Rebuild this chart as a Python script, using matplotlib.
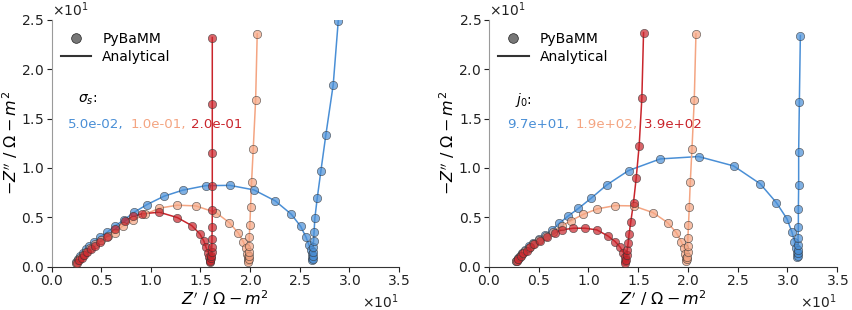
import matplotlib
matplotlib.use("Agg")
import matplotlib.pyplot as plt
from matplotlib.lines import Line2D

# colours for the three curves of each panel
colours = ["#4a8fd6", "#f4a582", "#c9252c"]

# ---- left panel: sigma_s sweep (Z' , -Z'') ----
sig_labels = ["5.0e-02,", "1.0e-01,", "2.0e-01"]

s1_x = [2.50, 2.65, 2.85, 3.12, 3.42, 3.79, 4.26, 4.87, 5.61, 6.38, 7.29, 8.33, 9.60, 11.32,
        13.20, 15.52, 17.97, 20.39, 22.53, 24.15, 25.09, 25.63, 25.93, 26.10, 26.20, 26.25,
        26.28, 26.30, 26.31, 26.33, 26.36, 26.40, 26.45, 26.53, 26.77, 27.14, 27.64, 28.38, 28.89]
s1_y = [0.50, 0.75, 1.08, 1.42, 1.76, 2.10, 2.47, 3.04, 3.49, 4.12, 4.73, 5.51, 6.28, 7.13,
        7.74, 8.20, 8.23, 7.77, 6.66, 5.31, 4.09, 3.01, 2.20, 1.70, 1.25, 0.90,
        0.65, 0.80, 1.10, 1.50, 2.00, 2.60, 3.49, 4.90, 6.93, 9.70, 13.35, 18.41, 24.90]

s2_x = [2.50, 2.70, 2.90, 3.20, 3.50, 3.90, 4.40, 5.00, 5.70, 6.38, 7.16, 8.23, 9.40, 10.85,
        12.66, 14.54, 16.56, 17.90, 18.81, 19.31, 19.58, 19.72, 19.78, 19.81, 19.83,
        19.85, 19.85, 19.85, 19.88, 19.92, 19.98, 20.05, 20.15, 20.32, 20.56, 20.72]
s2_y = [0.40, 0.65, 0.90, 1.20, 1.50, 1.85, 2.25, 2.70, 3.10, 3.45, 4.12, 4.73, 5.28, 5.92,
        6.22, 6.15, 5.47, 4.46, 3.41, 2.53, 1.86, 1.32, 0.95, 0.70, 0.50,
        0.78, 1.11, 1.52, 2.13, 3.01, 4.23, 6.02, 8.55, 11.93, 16.89, 23.58]

s3_x = [2.52, 2.78, 3.02, 3.29, 3.59, 3.93, 4.36, 4.87, 5.54, 6.38, 7.39, 8.20, 9.07, 10.85,
        12.66, 14.11, 14.94, 15.35, 15.55, 15.79, 15.90, 15.95, 15.98,
        16.00, 16.05, 16.10, 16.12, 16.14, 16.16, 16.18, 16.19, 16.19, 16.19, 16.19, 16.19]
s3_y = [0.41, 0.68, 0.91, 1.19, 1.46, 1.76, 2.10, 2.53, 3.04, 3.79, 4.63, 5.10, 5.34, 5.51,
        4.97, 4.16, 3.31, 2.57, 1.97, 1.42, 1.00, 0.70, 0.45,
        0.61, 0.85, 1.11, 1.46, 1.96, 2.77, 3.99, 5.75, 8.18, 11.49, 16.46, 23.21]

# ---- right panel: j0 sweep ----
j0_labels = ["9.7e+01,", "1.9e+02,", "3.9e+02"]

j1_x = [2.70, 2.90, 3.10, 3.35, 3.65, 4.00, 4.45, 5.00, 5.64, 6.31, 7.08, 7.98, 8.99, 10.27,
        11.85, 14.03, 17.22, 21.07, 24.60, 27.28, 28.89, 29.97, 30.47, 30.71, 30.85, 30.95,
        31.00, 31.05, 31.06, 31.07, 31.08, 31.08, 31.11, 31.11, 31.14, 31.14, 31.21, 31.31]
j1_y = [0.60, 0.85, 1.10, 1.40, 1.70, 2.05, 2.40, 2.80, 3.21, 3.72, 4.40, 5.14, 5.89, 6.93,
        8.28, 9.73, 10.91, 11.15, 10.20, 8.38, 6.49, 4.83, 3.48, 2.54, 1.86, 1.35,
        1.00, 1.11, 1.35, 1.69, 2.20, 2.94, 4.05, 5.82, 8.28, 11.65, 16.66, 23.41]

j2_x = [2.70, 2.90, 3.10, 3.35, 3.65, 4.00, 4.45, 5.00, 5.70, 6.48, 7.32, 8.26, 9.44, 10.90,
        12.68, 14.53, 16.49, 17.95, 18.83, 19.33, 19.63, 19.75, 19.82, 19.85,
        19.90, 19.95, 19.97, 19.98, 20.00, 20.06, 20.14, 20.24, 20.41, 20.64, 20.81]
j2_y = [0.55, 0.80, 1.00, 1.30, 1.60, 1.90, 2.25, 2.65, 3.10, 3.55, 4.12, 4.66, 5.28, 5.85,
        6.18, 6.15, 5.47, 4.46, 3.45, 2.54, 1.86, 1.30, 0.90, 0.60,
        0.75, 1.00, 1.52, 2.13, 2.94, 4.23, 6.02, 8.55, 11.93, 16.89, 23.58]

j3_x = [2.79, 2.95, 3.19, 3.45, 3.79, 4.13, 4.56, 5.13, 5.81, 6.65, 7.32, 8.49, 9.66, 10.84,
        11.95, 12.68, 13.19, 13.52, 13.65, 13.70, 13.72,
        13.80, 13.85, 13.90, 13.99, 14.09, 14.26, 14.53, 14.80, 15.10, 15.37, 15.54]
j3_y = [0.55, 0.81, 1.08, 1.36, 1.62, 1.97, 2.27, 2.63, 3.04, 3.45, 3.72, 3.89, 3.89, 3.72,
        3.11, 2.54, 1.97, 1.42, 1.00, 0.60, 0.40,
        0.70, 1.20, 1.70, 2.37, 3.31, 4.56, 6.49, 8.96, 12.26, 17.06, 23.71]

panels = [
    ([(s1_x, s1_y), (s2_x, s2_y), (s3_x, s3_y)], r"$\sigma_s$:", sig_labels, [0.047, 0.228, 0.401]),
    ([(j1_x, j1_y), (j2_x, j2_y), (j3_x, j3_y)], r"$j_0$:", j0_labels, [0.052, 0.250, 0.446]),
]

fig = plt.figure(figsize=(8.53, 3.10), dpi=100)
ax_pos = [[0.0606, 0.140, 0.407, 0.796], [0.5733, 0.140, 0.408, 0.796]]

for pos, (curves, title, labels, tx) in zip(ax_pos, panels):
    ax = fig.add_axes(pos)
    for (x, y), c in zip(curves, colours):
        ax.plot(x, y, color=c, lw=1.1, zorder=2)
        ax.plot(x, y, ls="none", marker="o", ms=6, mfc=c, mec="#333333",
                mew=0.5, alpha=0.7, zorder=3)
    ax.set_xlim(0, 35)
    ax.set_ylim(0, 25)
    ax.ticklabel_format(style="sci", scilimits=(0, 0), axis="both", useMathText=True)
    ax.spines["top"].set_visible(False)
    ax.spines["right"].set_visible(False)
    ax.spines["left"].set_color("#9a9a9a")
    ax.spines["bottom"].set_color("#333333")
    ax.tick_params(labelsize=10, colors="#222222", pad=2)
    ax.xaxis.get_offset_text().set_fontsize(10)
    ax.yaxis.get_offset_text().set_fontsize(10)
    ax.set_xlabel(r"$Z^{\prime}\ /\ \Omega - m^2$", fontsize=11.5, labelpad=0)
    ax.set_ylabel(r"$-Z^{\prime\prime}\ /\ \Omega - m^2$", fontsize=11.5, labelpad=1)

    handles = [Line2D([], [], ls="none", marker="o", ms=7, mfc="#555555", mec="k",
                      mew=0.5, alpha=0.8),
               Line2D([], [], color="k", lw=1.5, alpha=0.8)]
    ax.legend(handles, ["PyBaMM", "Analytical"], loc="upper left", frameon=False,
              fontsize=10, bbox_to_anchor=(-0.01, 1.0), handlelength=2.2,
              labelspacing=0.25)

    ax.text(0.075, 0.675, title, transform=ax.transAxes, fontsize=10, va="center")
    for lab, x0, c in zip(labels, tx, colours):
        ax.text(x0, 0.575, lab, transform=ax.transAxes, fontsize=9.6, color=c, va="center")

fig.savefig("out.png", dpi=100)
